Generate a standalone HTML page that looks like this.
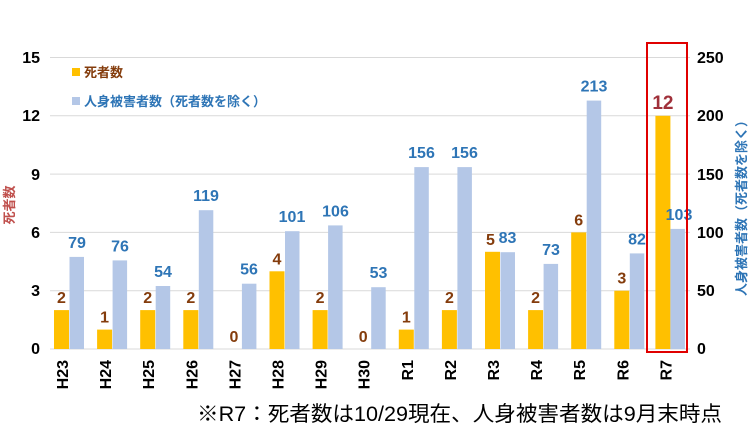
<!DOCTYPE html>
<html><head><meta charset="utf-8"><style>
body{margin:0;background:#fff;}
svg{display:block;font-family:"Liberation Sans","Noto Sans CJK JP",sans-serif;}
</style></head><body>
<svg width="756" height="435" viewBox="0 0 756 435">
<g stroke="#d9d9d9" stroke-width="1">
<line x1="50" x2="690" y1="57.5" y2="57.5"/><line x1="50" x2="690" y1="115.8" y2="115.8"/>
<line x1="50" x2="690" y1="174.1" y2="174.1"/><line x1="50" x2="690" y1="232.4" y2="232.4"/>
<line x1="50" x2="690" y1="290.7" y2="290.7"/><line x1="50" x2="690" y1="349" y2="349"/>
</g>
<g font-size="16" font-weight="bold" fill="#000" text-anchor="end">
<text x="40" y="63">15</text><text x="40" y="121">12</text><text x="40" y="180">9</text>
<text x="40" y="238">6</text><text x="40" y="296">3</text><text x="40" y="354">0</text>
</g>
<g font-size="16" font-weight="bold" fill="#000" text-anchor="start">
<text x="697" y="63">250</text><text x="697" y="121">200</text><text x="697" y="180">150</text>
<text x="697" y="238">100</text><text x="697" y="296">50</text><text x="697" y="354">0</text>
</g>
<text transform="translate(14,205) rotate(-90)" font-size="13" font-weight="bold" fill="#c0504d" text-anchor="middle">死者数</text>
<text transform="translate(746,205) rotate(-90)" font-size="13" font-weight="bold" fill="#2e75b6" text-anchor="middle">人身被害者数（死者数を除く）</text>
<rect x="72" y="68" width="8" height="8" fill="#ffc000"/>
<text x="84" y="77" font-size="13" font-weight="bold" fill="#843c0c">死者数</text>
<rect x="72" y="97" width="8" height="8" fill="#b4c7e7"/>
<text x="84" y="106" font-size="13" font-weight="bold" fill="#2e75b6">人身被害者数（死者数を除く）</text>

<g fill="#ffc000">
<rect x="54" y="310.1" width="15" height="38.9"/>
<rect x="97.1" y="329.6" width="15" height="19.4"/>
<rect x="140.2" y="310.1" width="15" height="38.9"/>
<rect x="183.3" y="310.1" width="15" height="38.9"/>
<rect x="269.5" y="271.3" width="15" height="77.7"/>
<rect x="312.6" y="310.1" width="15" height="38.9"/>
<rect x="398.8" y="329.6" width="15" height="19.4"/>
<rect x="441.9" y="310.1" width="15" height="38.9"/>
<rect x="485" y="251.8" width="15" height="97.2"/>
<rect x="528.1" y="310.1" width="15" height="38.9"/>
<rect x="571.2" y="232.4" width="15" height="116.6"/>
<rect x="614.3" y="290.7" width="15" height="58.3"/>
<rect x="655.4" y="115.8" width="15" height="233.2"/>
</g>
<g fill="#b4c7e7">
<rect x="69.5" y="256.9" width="14.5" height="92.1"/>
<rect x="112.6" y="260.4" width="14.5" height="88.6"/>
<rect x="155.7" y="286" width="14.5" height="63"/>
<rect x="198.8" y="210.2" width="14.5" height="138.8"/>
<rect x="241.9" y="283.7" width="14.5" height="65.3"/>
<rect x="285" y="231.2" width="14.5" height="117.8"/>
<rect x="328.1" y="225.4" width="14.5" height="123.6"/>
<rect x="371.2" y="287.2" width="14.5" height="61.8"/>
<rect x="414.3" y="167.1" width="14.5" height="181.9"/>
<rect x="457.4" y="167.1" width="14.5" height="181.9"/>
<rect x="500.5" y="252.2" width="14.5" height="96.8"/>
<rect x="543.6" y="263.9" width="14.5" height="85.1"/>
<rect x="586.7" y="100.6" width="14.5" height="248.4"/>
<rect x="629.8" y="253.4" width="14.5" height="95.6"/>
<rect x="670.4" y="228.9" width="14.5" height="120.1"/>
</g>
<g font-size="16" font-weight="bold" fill="#843c0c" text-anchor="middle">
<text x="61.5" y="303">2</text><text x="104.6" y="322.6">1</text><text x="147.7" y="303">2</text>
<text x="190.8" y="303">2</text><text x="233.9" y="342">0</text><text x="277" y="264.3">4</text>
<text x="320.1" y="303">2</text><text x="363.2" y="342">0</text><text x="406.3" y="322.6">1</text>
<text x="449.4" y="303">2</text><text x="490.5" y="244.8">5</text><text x="535.6" y="303">2</text>
<text x="578.7" y="225.4">6</text><text x="621.8" y="283.7">3</text>
<text x="662.9" y="108.8" font-size="19" fill="#a0303a">12</text>
</g>
<g font-size="16" font-weight="bold" fill="#2e75b6" text-anchor="middle">
<text x="77" y="248">79</text><text x="120" y="251.4">76</text><text x="163" y="277">54</text>
<text x="206" y="201.2">119</text><text x="249" y="274.7">56</text><text x="292" y="222.2">101</text>
<text x="335.5" y="216.4">106</text><text x="378.5" y="278.2">53</text><text x="421.5" y="158.1">156</text>
<text x="464.5" y="158.1">156</text><text x="507.5" y="243.2">83</text><text x="551" y="254.9">73</text>
<text x="594" y="91.6">213</text><text x="637" y="244.4">82</text><text x="679" y="219.9">103</text>
</g>
<g font-size="16" font-weight="bold" fill="#000" text-anchor="end">
<text transform="translate(68,360) rotate(-90)">H23</text>
<text transform="translate(111.1,360) rotate(-90)">H24</text>
<text transform="translate(154.2,360) rotate(-90)">H25</text>
<text transform="translate(197.3,360) rotate(-90)">H26</text>
<text transform="translate(240.4,360) rotate(-90)">H27</text>
<text transform="translate(283.5,360) rotate(-90)">H28</text>
<text transform="translate(326.6,360) rotate(-90)">H29</text>
<text transform="translate(369.7,360) rotate(-90)">H30</text>
<text transform="translate(412.8,360) rotate(-90)">R1</text>
<text transform="translate(455.9,360) rotate(-90)">R2</text>
<text transform="translate(499,360) rotate(-90)">R3</text>
<text transform="translate(542.1,360) rotate(-90)">R4</text>
<text transform="translate(585.2,360) rotate(-90)">R5</text>
<text transform="translate(628.3,360) rotate(-90)">R6</text>
<text transform="translate(671.4,360) rotate(-90)">R7</text>
</g>
<rect x="647" y="43" width="40" height="309" fill="none" stroke="#e00000" stroke-width="2"/>
<text x="197" y="421" font-size="21" fill="#000" textLength="525" lengthAdjust="spacingAndGlyphs">※R7：死者数は10/29現在、人身被害者数は9月末時点</text>
</svg>
</body></html>
